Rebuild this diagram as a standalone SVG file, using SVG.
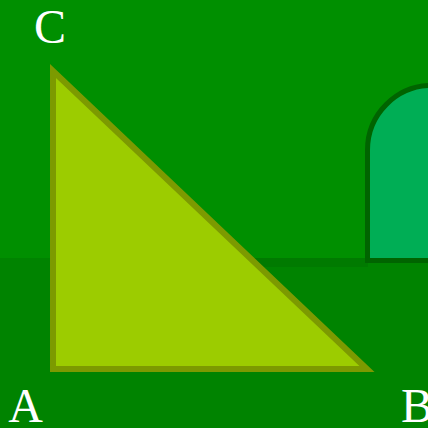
<svg xmlns="http://www.w3.org/2000/svg" width="428" height="428" viewBox="0 0 428 428">
<style>
.lbl{font-family:"Liberation Serif","DejaVu Serif",serif;font-size:48px;fill:#ffffff}
</style>
<rect x="0" y="0" width="428" height="258" fill="#008f00"/>
<rect x="0" y="258" width="428" height="170" fill="#008300"/>
<rect x="53" y="258" width="315" height="9" fill="#007a00"/>
<g id="arch">
<path d="M367.5,260.5 V150 A64.5,64.5 0 0 1 432,85.5 H440 V260.5 Z" fill="#00ae55" stroke="#006400" stroke-width="5"/>
</g>
<g id="triangle">
<polygon points="53,71 53,369 367,369" fill="#9ccc00" stroke="#7c9a00" stroke-width="6" stroke-linejoin="miter"/>
</g>
<g id="connectors"></g>
<g id="labels">
<text class="lbl" x="50" y="43" text-anchor="middle">C</text>
<text class="lbl" x="25.5" y="422" text-anchor="middle">A</text>
<text class="lbl" x="401" y="422">B</text>
</g>
</svg>
